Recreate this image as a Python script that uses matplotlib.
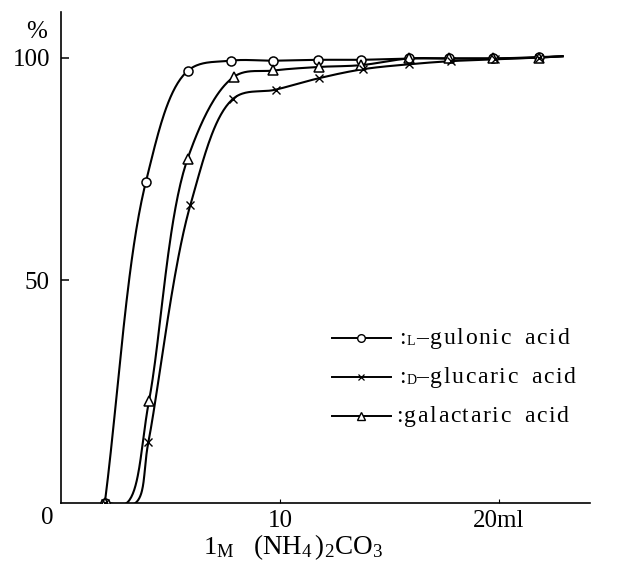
import numpy as np
import matplotlib
matplotlib.use('Agg')
import matplotlib.pyplot as plt
from matplotlib.lines import Line2D

plt.rcParams['font.family'] = 'Liberation Serif'
plt.rcParams['mathtext.fontset'] = 'custom'
plt.rcParams['mathtext.rm'] = 'Liberation Serif'
plt.rcParams['mathtext.it'] = 'Liberation Serif:italic'

# data (ml of 1M (NH4)2CO3 vs %)
gul_x = [2.0, 3.87, 5.78, 7.75, 9.7, 11.75, 13.7, 15.9, 17.7, 19.7, 21.8]
gul_y = [0, 72, 97, 99.3, 99.3, 99.5, 99.5, 99.8, 99.8, 99.8, 100.1]

glu_x = [2.0, 3.99, 5.9, 7.87, 9.8, 11.8, 13.8, 15.9, 17.8, 19.8, 21.8]
glu_y = [0, 13.7, 66.8, 90.8, 92.8, 95.4, 97.4, 98.5, 99.2, 99.6, 100.0]

gal_x = [2.0, 4.02, 5.78, 7.9, 9.7, 11.8, 13.7, 15.9, 17.7, 19.7, 21.8]
gal_y = [0, 23, 77.3, 95.7, 97.1, 97.9, 98.3, 99.8, 99.8, 99.8, 100.0]

# where the curves leave the baseline, and where the drawn line ends
gul_foot = 2.0
glu_foot = 3.4
gal_foot = 3.0
line_end_x = 22.9
line_end_y = 100.3

legend_prefix = ['L', 'D', '']
legend_names = ['gulonic', 'glucaric', 'galactaric']
legend_markers = ['o', 'x', '^']

SX, SY = 21.9, 4.454  # px per unit, used so the smoothing works in screen space


def smooth(xs, ys, n=40):
    P = np.column_stack([np.asarray(xs) * SX, np.asarray(ys) * SY])
    P = np.vstack([2 * P[0] - P[1], P, 2 * P[-1] - P[-2]])
    out = []
    for i in range(1, len(P) - 2):
        p0, p1, p2, p3 = P[i - 1:i + 3]
        t0 = 0.0
        t1 = t0 + np.linalg.norm(p1 - p0) ** 0.5
        t2 = t1 + np.linalg.norm(p2 - p1) ** 0.5
        t3 = t2 + np.linalg.norm(p3 - p2) ** 0.5
        t = np.linspace(t1, t2, n)[:, None]
        a1 = (t1 - t) / (t1 - t0) * p0 + (t - t0) / (t1 - t0) * p1
        a2 = (t2 - t) / (t2 - t1) * p1 + (t - t1) / (t2 - t1) * p2
        a3 = (t3 - t) / (t3 - t2) * p2 + (t - t2) / (t3 - t2) * p3
        b1 = (t2 - t) / (t2 - t0) * a1 + (t - t0) / (t2 - t0) * a2
        b2 = (t3 - t) / (t3 - t1) * a2 + (t - t1) / (t3 - t1) * a3
        c = (t2 - t) / (t2 - t1) * b1 + (t - t1) / (t2 - t1) * b2
        out.append(c)
    out = np.vstack(out)
    return out[:, 0] / SX, out[:, 1] / SY


def curve_knots(xs, ys, foot):
    kx = list(xs) + [line_end_x]
    ky = list(ys) + [line_end_y]
    if foot > xs[0]:
        kx = [xs[0], foot] + kx[1:]
        ky = [0, 0] + ky[1:]
    return kx, ky


W, H = 621, 562
fig = plt.figure(figsize=(W / 100, H / 100), dpi=100)
renderer = fig.canvas.get_renderer()
ax = fig.add_axes([61 / W, 59 / H, 529 / W, 491.3 / H])


def spaced(x, y, s, fs=17, gap=1.6):
    # letter-spaced text, like the typeset original
    for ch in s:
        t = fig.text(x / W, 1 - y / H, ch, fontsize=fs, ha='left', va='baseline')
        x += t.get_window_extent(renderer).width + gap
    return x


for xs, ys, foot, mk in [(gul_x, gul_y, gul_foot, 'o'),
                         (gal_x, gal_y, gal_foot, '^'),
                         (glu_x, glu_y, glu_foot, 'x')]:
    kx, ky = curve_knots(xs, ys, foot)
    cx, cy = smooth(kx, ky)
    ax.plot(cx, cy, color='black', lw=1.5, zorder=2)
    if mk == 'x':
        ax.plot(xs, ys, ls='none', marker='x', ms=6, mew=1.0,
                color='black', zorder=3)
    else:
        ax.plot(xs, ys, ls='none', marker=mk, ms=6.5, mew=1.1,
                mfc='white', mec='black', zorder=3)

ax.set_xlim(0, 24.15)
ax.set_ylim(0, 110.3)
ax.spines['top'].set_visible(False)
ax.spines['right'].set_visible(False)
ax.spines['left'].set_linewidth(1.2)
ax.spines['bottom'].set_linewidth(1.2)

ax.set_yticks([50, 100])
ax.set_yticklabels(['50', '100'], fontsize=18)
ax.set_xticks([10, 20])
ax.set_xticklabels(['10', '20ml'], fontsize=18)
ax.tick_params(axis='y', direction='in', length=6, width=1.1, pad=8)
ax.tick_params(axis='x', direction='in', length=3, width=0.8, pad=5)

fig.text(47 / W, 1 - 518 / H, '0', fontsize=18, ha='center', va='center')
fig.text(37 / W, 1 - 32 / H, '%', fontsize=18, ha='center', va='center')
fig.text(203 / W, 1 - 554 / H, r'$\mathrm{1_{M}}$', fontsize=19,
         ha='left', va='baseline')
fig.text(253 / W, 1 - 554 / H, r'$\mathrm{(NH_{4}\,)_{2}CO_{3}}$',
         fontsize=19.5, ha='left', va='baseline')

# hand-built legend
row_y = [338, 377, 416]
for yy, pre, name, mk in zip(row_y, legend_prefix, legend_names,
                             legend_markers):
    fy = 1 - yy / H
    fig.add_artist(Line2D([332 / W, 391 / W], [fy, fy], color='black',
                          lw=1.4, transform=fig.transFigure))
    if mk == 'x':
        fig.add_artist(Line2D([361 / W], [fy], ls='none', marker='x', ms=5,
                              mew=0.9, color='black', transform=fig.transFigure))
    else:
        fig.add_artist(Line2D([361 / W], [fy], ls='none', marker=mk, ms=5.5,
                              mew=1.0, mfc='white', mec='black',
                              transform=fig.transFigure))
    base = yy + 6
    if pre:
        fig.text(399 / W, 1 - base / H, ':', fontsize=17, ha='left', va='baseline')
        fig.text(407 / W, 1 - (base + 1) / H, pre, fontsize=10,
                 ha='left', va='baseline')
        fig.text(416 / W, 1 - base / H, '–', fontsize=17,
                 ha='left', va='baseline')
        x_end = spaced(430, base, name)
    else:
        fig.text(396 / W, 1 - base / H, ':', fontsize=17, ha='left', va='baseline')
        x_end = spaced(404, base, name)
    spaced(x_end + 12, base, 'acid')

fig.savefig('out.png', dpi=100)
